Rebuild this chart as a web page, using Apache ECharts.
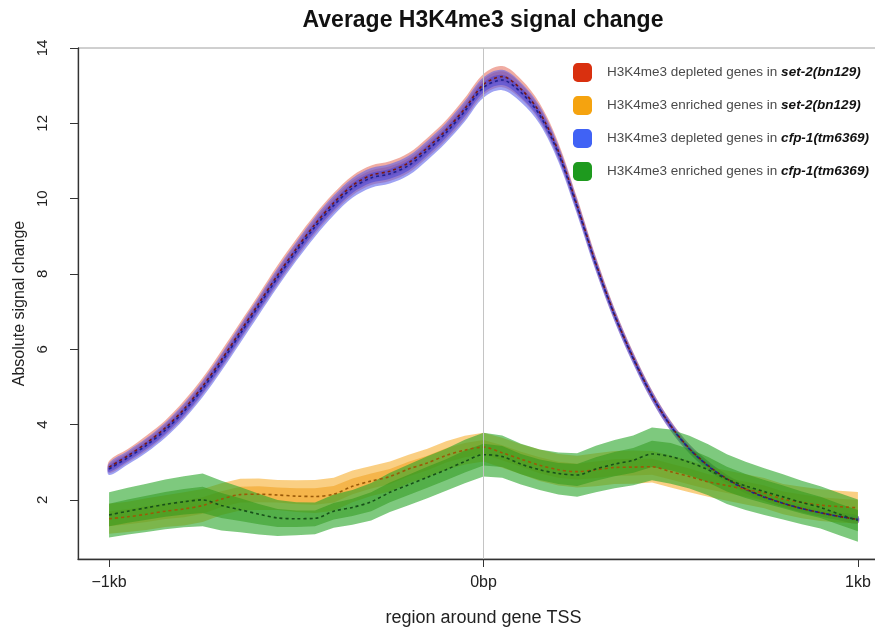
<!DOCTYPE html>
<html>
<head>
<meta charset="utf-8">
<script src="https://cdn.jsdelivr.net/npm/echarts@6/dist/echarts.min.js"></script>
<style>
  html, body { margin: 0; padding: 0; background: #ffffff; }
  #chart { width: 875px; height: 629px; }
</style>
</head>
<body>
<div id="chart"></div>
<script>
// Position relative to the TSS, in kb
const positionKb = [
  -1.00, -0.95, -0.90, -0.85, -0.80, -0.75, -0.70, -0.65, -0.60, -0.55,
  -0.50, -0.45, -0.40, -0.35, -0.30, -0.25, -0.20, -0.15, -0.10, -0.05,
   0.00,  0.05,  0.10,  0.15,  0.20,  0.25,  0.30,  0.35,  0.40,  0.45,
   0.50,  0.55,  0.60,  0.65,  0.70,  0.75,  0.80,  0.85,  0.90,  0.95, 1.00
];

// H3K4me3 depleted genes in set-2(bn129): mean and standard error
const set2DepletedMean = [
  2.87, 3.17, 3.51, 3.91, 4.41, 5.02, 5.72, 6.47, 7.22, 7.97,
  8.67, 9.32, 9.89, 10.35, 10.62, 10.73, 10.95, 11.35, 11.82, 12.39,
  13.03, 13.24, 12.91, 12.29, 11.26, 9.82, 8.28, 6.92, 5.77, 4.77,
  3.97, 3.36, 2.91, 2.56, 2.29, 2.08, 1.91, 1.77, 1.66, 1.56, 1.48
];
const set2DepletedSe = [
  0.08, 0.09, 0.10, 0.10, 0.11, 0.11, 0.12, 0.12, 0.12, 0.13,
  0.13, 0.13, 0.13, 0.13, 0.13, 0.13, 0.13, 0.13, 0.13, 0.14,
  0.14, 0.14, 0.13, 0.12, 0.11, 0.10, 0.09, 0.08, 0.075, 0.07,
  0.065, 0.06, 0.06, 0.055, 0.055, 0.05, 0.05, 0.05, 0.05, 0.05, 0.05
];

// H3K4me3 enriched genes in set-2(bn129)
const set2EnrichedMean = [
  1.50, 1.55, 1.62, 1.70, 1.76, 1.85, 2.02, 2.14, 2.15, 2.13,
  2.10, 2.09, 2.15, 2.36, 2.50, 2.62, 2.82, 2.98, 3.18, 3.32,
  3.40, 3.25, 3.08, 2.92, 2.80, 2.75, 2.80, 2.86, 2.87, 2.88,
  2.75, 2.62, 2.48, 2.38, 2.28, 2.18, 2.02, 1.93, 1.86, 1.82, 1.79
];
const set2EnrichedSe = [
  0.20, 0.20, 0.21, 0.21, 0.22, 0.22, 0.21, 0.21, 0.21, 0.20,
  0.21, 0.22, 0.22, 0.21, 0.20, 0.20, 0.19, 0.19, 0.19, 0.19,
  0.19, 0.20, 0.20, 0.21, 0.21, 0.21, 0.22, 0.22, 0.22, 0.21,
  0.21, 0.21, 0.20, 0.20, 0.20, 0.20, 0.20, 0.21, 0.21, 0.21, 0.21
];

// H3K4me3 depleted genes in cfp-1(tm6369)
const cfp1DepletedMean = [
  2.82, 3.12, 3.45, 3.85, 4.35, 4.95, 5.65, 6.40, 7.15, 7.90,
  8.60, 9.25, 9.82, 10.28, 10.55, 10.66, 10.88, 11.28, 11.75, 12.32,
  12.95, 13.15, 12.82, 12.22, 11.20, 9.78, 8.25, 6.90, 5.75, 4.76,
  3.96, 3.35, 2.90, 2.55, 2.28, 2.07, 1.91, 1.77, 1.66, 1.56, 1.48
];
const cfp1DepletedSe = [
  0.08, 0.09, 0.095, 0.10, 0.105, 0.11, 0.115, 0.12, 0.12, 0.125,
  0.125, 0.13, 0.13, 0.13, 0.13, 0.13, 0.13, 0.13, 0.13, 0.135,
  0.135, 0.135, 0.13, 0.12, 0.11, 0.10, 0.09, 0.08, 0.075, 0.07,
  0.065, 0.06, 0.06, 0.055, 0.055, 0.05, 0.05, 0.05, 0.05, 0.05, 0.05
];

// H3K4me3 enriched genes in cfp-1(tm6369)
const cfp1EnrichedMean = [
  1.60, 1.70, 1.79, 1.88, 1.95, 2.00, 1.85, 1.74, 1.62, 1.52,
  1.50, 1.51, 1.70, 1.80, 1.95, 2.20, 2.40, 2.60, 2.80, 3.02,
  3.20, 3.15, 2.95, 2.80, 2.70, 2.66, 2.82, 2.95, 3.05, 3.22,
  3.15, 3.00, 2.80, 2.55, 2.37, 2.22, 2.08, 1.93, 1.80, 1.62, 1.45
];
const cfp1EnrichedSe = [
  0.30, 0.31, 0.32, 0.33, 0.34, 0.35, 0.33, 0.30, 0.27, 0.24,
  0.22, 0.21, 0.22, 0.23, 0.25, 0.26, 0.27, 0.28, 0.28, 0.29,
  0.29, 0.28, 0.27, 0.27, 0.28, 0.29, 0.31, 0.32, 0.33, 0.35,
  0.36, 0.35, 0.34, 0.33, 0.32, 0.31, 0.30, 0.29, 0.28, 0.28, 0.28
];

// Axis ticks
const xTickValues = [-1, 0, 1];
const xTickLabels = ['\u22121kb', '0bp', '1kb'];
const yTickValues = [2, 4, 6, 8, 10, 12, 14];

const FONT = 'Liberation Sans, Arial, Helvetica, sans-serif';

// One profile: its name, colours and numbers
const profiles = [
  { name: 'H3K4me3 depleted genes in set-2(bn129)', mean: set2DepletedMean, se: set2DepletedSe,
    key: '#d9300f', outer: 'rgba(226,90,70,0.50)', inner: 'rgba(214,60,40,0.45)', line: '#7a1a10', smooth: 0.35 },
  { name: 'H3K4me3 depleted genes in cfp-1(tm6369)', mean: cfp1DepletedMean, se: cfp1DepletedSe,
    key: '#4062f5', outer: 'rgba(90,95,235,0.58)', inner: 'rgba(60,60,215,0.50)', line: '#1c2290', smooth: 0.35 },
  { name: 'H3K4me3 enriched genes in set-2(bn129)', mean: set2EnrichedMean, se: set2EnrichedSe,
    key: '#f5a30f', outer: 'rgba(245,168,30,0.55)', inner: 'rgba(240,155,20,0.50)', line: '#9a5a08', smooth: 0 },
  { name: 'H3K4me3 enriched genes in cfp-1(tm6369)', mean: cfp1EnrichedMean, se: cfp1EnrichedSe,
    key: '#1e9a1e', outer: 'rgba(40,165,40,0.60)', inner: 'rgba(40,150,20,0.50)', line: '#17501a', smooth: 0 }
];

// Shaded band between mean - k*se and mean + k*se, drawn as one polygon
function bandSeries(p, k, fill) {
  const data = positionKb.map((x, i) => [x, p.mean[i] - k * p.se[i], p.mean[i] + k * p.se[i]]);
  return {
    type: 'custom',
    silent: true,
    data: data,
    encode: { x: 0, y: [1, 2] },
    renderItem: function (params, api) {
      if (params.dataIndex !== 0) return null;
      const upper = [];
      const lower = [];
      for (let i = 0; i < data.length; i++) {
        upper.push(api.coord([data[i][0], data[i][2]]));
        lower.push(api.coord([data[i][0], data[i][1]]));
      }
      return {
        type: 'polygon',
        shape: { points: upper.concat(lower.reverse()), smooth: p.smooth },
        style: { fill: fill, stroke: null }
      };
    }
  };
}

const series = [
  {
    // reference line at the TSS
    type: 'line',
    data: [],
    silent: true,
    markLine: {
      symbol: 'none',
      silent: true,
      label: { show: false },
      lineStyle: { color: '#c4c4c4', width: 1, type: 'solid' },
      data: [{ xAxis: 0 }]
    }
  }
];

profiles.forEach(p => {
  series.push(bandSeries(p, 2, p.outer));
  series.push(bandSeries(p, 1, p.inner));
  series.push({
    name: p.name,
    type: 'line',
    smooth: 0.3,
    symbol: 'none',
    silent: true,
    data: positionKb.map((x, i) => [x, p.mean[i]]),
    itemStyle: { color: p.key },
    lineStyle: { color: p.line, width: 1.6, type: [3, 3] }
  });
});

// Legend entries are listed in this order
const legendOrder = [0, 2, 1, 3];

const chart = echarts.init(document.getElementById('chart'), null, { renderer: 'canvas' });
chart.setOption({
  animation: false,
  backgroundColor: '#ffffff',
  title: {
    text: 'Average H3K4me3 signal change',
    left: 478,
    top: 4,
    textAlign: 'center',
    textStyle: { fontFamily: FONT, fontSize: 23, fontWeight: 'bold', color: '#111' }
  },
  legend: {
    orient: 'vertical',
    left: 573,
    top: 63,
    padding: 0,
    itemWidth: 19,
    itemHeight: 19,
    itemGap: 14,
    selectedMode: false,
    data: legendOrder.map(i => ({
      name: profiles[i].name,
      icon: 'roundRect',
      itemStyle: { color: profiles[i].key, borderWidth: 0 }
    })),
    formatter: function (name) {
      const parts = name.split(' in ');
      return '{a|' + parts[0] + ' in }{b|' + parts[1] + '}';
    },
    textStyle: {
      rich: {
        a: { fontFamily: FONT, fontSize: 13.5, color: '#4a4a4a', padding: [0, 0, 0, 10] },
        b: { fontFamily: FONT, fontSize: 13.5, color: '#111', fontWeight: 'bold', fontStyle: 'italic' }
      }
    }
  },
  grid: {
    left: 78,
    top: 48,
    right: -14,
    bottom: 70,
    containLabel: false,
    outerBoundsMode: 'none',
    show: true,
    borderColor: '#a0a0a0',
    borderWidth: 1
  },
  xAxis: {
    type: 'value',
    min: -1.083,
    max: 1.083,
    name: 'region around gene TSS',
    nameLocation: 'middle',
    nameGap: 50,
    nameTextStyle: { fontFamily: FONT, fontSize: 18, color: '#222' },
    axisLine: { show: true, onZero: false, lineStyle: { color: '#333', width: 1.3 } },
    axisTick: { show: true, length: 8, customValues: xTickValues, lineStyle: { color: '#333' } },
    axisLabel: {
      customValues: xTickValues,
      formatter: v => xTickLabels[xTickValues.indexOf(v)],
      fontFamily: FONT, fontSize: 16, color: '#222', margin: 16
    },
    splitLine: { show: false }
  },
  yAxis: {
    type: 'value',
    min: 0.43,
    max: 14,
    name: 'Absolute signal change',
    nameLocation: 'middle',
    nameGap: 50,
    nameTextStyle: { fontFamily: FONT, fontSize: 16, color: '#222' },
    axisLine: { show: true, onZero: false, lineStyle: { color: '#333', width: 1.3 } },
    axisTick: { show: true, length: 8, customValues: yTickValues, lineStyle: { color: '#333' } },
    axisLabel: {
      customValues: yTickValues,
      rotate: 90,
      fontFamily: FONT, fontSize: 15, color: '#222', margin: 28
    },
    splitLine: { show: false }
  },
  series: series
});
</script>
</body>
</html>
